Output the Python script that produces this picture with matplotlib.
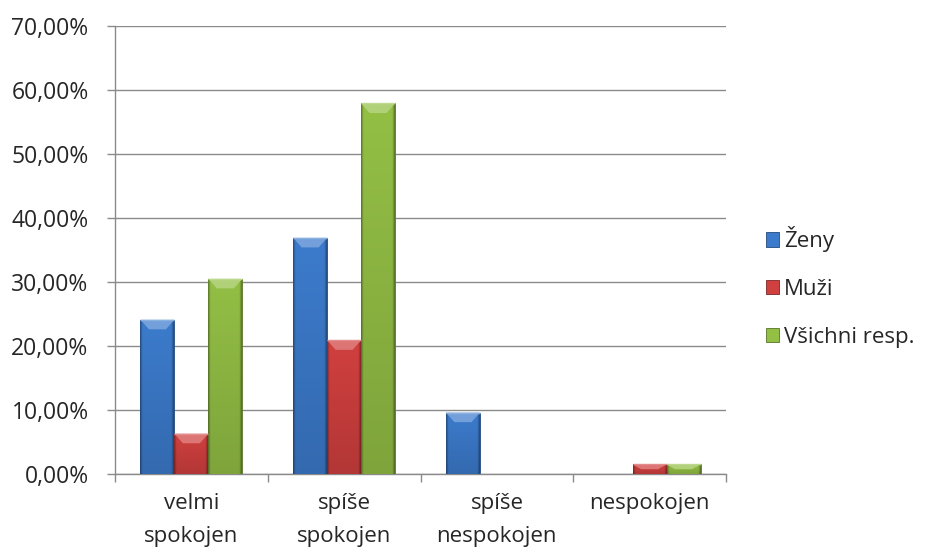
import numpy as np
import matplotlib
matplotlib.use("Agg")
import matplotlib.pyplot as plt
from matplotlib.colors import to_rgb
from matplotlib.patches import Patch, Polygon
from matplotlib.ticker import FixedLocator, FuncFormatter

categories = ["velmi\nspokojen", "spíše\nspokojen", "spíše\nnespokojen", "nespokojen"]
series_names = ["Ženy", "Muži", "Všichni resp."]
zeny = [24.1, 36.9, 9.6, 0.0]
muzi = [6.3, 20.9, 0.0, 1.5]
vsichni = [30.5, 57.9, 0.0, 1.5]
series_colors = ["#3c7bcc", "#d0403f", "#93bf45"]
y_ticks = [0, 10, 20, 30, 40, 50, 60, 70]

plt.rcParams["font.family"] = ["Open Sans", "DejaVu Sans"]
TEXT = "#262626"
AXIS = "#8a8a8a"

fig = plt.figure(figsize=(9.27, 5.53), dpi=100)
ax = fig.add_axes([115 / 927, 1 - 474 / 553, 611 / 927, 448 / 553])


def shade(color, f):
    c = np.array(to_rgb(color))
    if f >= 0:
        return tuple(c + (1 - c) * f)
    return tuple(c * (1 + f))


def bevel_bar(ax, rect, color):
    # flat body with dark rims, slightly darker toward the bottom
    x0, w, h = rect.get_x(), rect.get_width(), rect.get_height()
    if h <= 0:
        return
    gx = np.linspace(0, 1, 68)
    rim = np.minimum(gx, 1 - gx)
    edge = np.clip(rim / 0.07, 0, 1)
    gy = np.linspace(0, 1, 60)[:, None]
    base = np.array(to_rgb(color))
    factor = (0.62 + 0.38 * edge)[None, :] * (0.86 + 0.14 * gy)
    rgb = np.clip(base[None, None, :] * factor[..., None], 0, 1)
    im = ax.imshow(rgb, extent=(x0, x0 + w, 0, h), origin="lower",
                   aspect="auto", zorder=3, interpolation="bilinear")
    im.set_clip_path(rect)
    # lighter top face
    bh = min(1.5, h * 0.5)
    inset = w * 0.25
    top = Polygon([(x0, h), (x0 + w, h), (x0 + w - inset, h - bh), (x0 + inset, h - bh)],
                  closed=True, facecolor=shade(color, 0.28), edgecolor="none", zorder=4)
    ax.add_patch(top)
    ax.add_patch(Polygon([(x0, h), (x0 + w, h)], closed=False, fill=False,
                         edgecolor=shade(color, 0.4), lw=1, zorder=4))


n = len(series_names)
width = 1 / 4.5
centers = np.arange(len(categories)) + 0.5
handles = []
for i, (vals, col) in enumerate(zip([zeny, muzi, vsichni], series_colors)):
    xs = centers + (i - (n - 1) / 2) * width
    bars = ax.bar(xs, vals, width=width, color=col, edgecolor=shade(col, -0.4),
                  linewidth=0.6, zorder=2)
    for rect in bars:
        bevel_bar(ax, rect, col)
    handles.append(Patch(facecolor=col, edgecolor=shade(col, -0.4), linewidth=0.6))

ax.set_xlim(0, len(categories))
ax.set_ylim(0, 70)

ax.yaxis.set_major_locator(FixedLocator(y_ticks))
ax.yaxis.set_major_formatter(FuncFormatter(lambda v, p: f"{v:.2f}%".replace(".", ",")))
ax.grid(axis="y", color=AXIS, lw=1, zorder=1)
ax.set_axisbelow(True)

ax.set_xticks(np.arange(len(categories) + 1))
ax.set_xticklabels([])
ax.set_xticks(centers, minor=True)
ax.set_xticklabels(categories, minor=True, linespacing=1.75)
ax.tick_params(axis="x", which="minor", length=0, pad=14, labelsize=16, labelcolor=TEXT)
ax.tick_params(axis="x", which="major", length=6, color=AXIS, width=1)
ax.tick_params(axis="y", length=6, color=AXIS, width=1, pad=13, labelsize=16.5, labelcolor=TEXT)

for side in ["top", "right"]:
    ax.spines[side].set_visible(False)
for side in ["left", "bottom"]:
    ax.spines[side].set_color(AXIS)
    ax.spines[side].set_linewidth(1)

fig.legend(handles, series_names, loc="center left", bbox_to_anchor=(746 / 927, 1 - 287 / 553),
           frameon=False, fontsize=16, labelcolor=TEXT, handlelength=0.6, handleheight=0.6,
           handletextpad=0.2, labelspacing=1.2)

fig.savefig("out.png", dpi=100, facecolor="white")
